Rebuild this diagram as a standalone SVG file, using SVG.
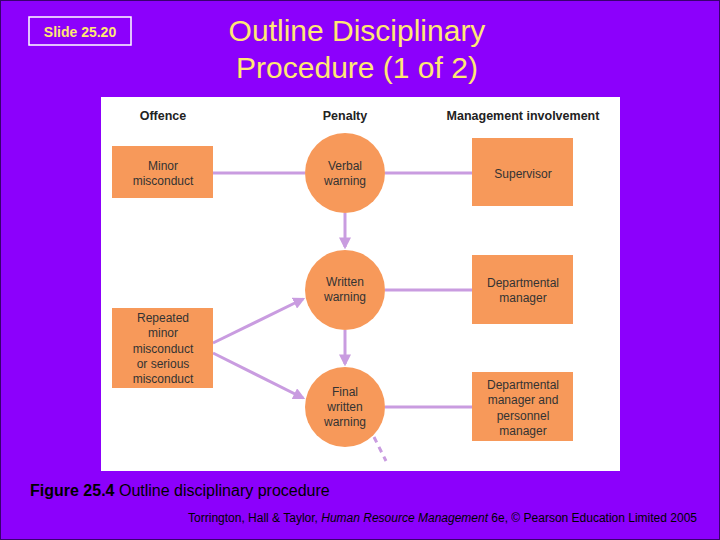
<svg xmlns="http://www.w3.org/2000/svg" width="720" height="540" viewBox="0 0 720 540">
<defs>
<style>
.n{fill:#F7995A}
.t{font-family:"Liberation Sans",Arial,sans-serif;font-size:12px;fill:#333;text-anchor:middle}
.h{font-family:"Liberation Sans",Arial,sans-serif;font-size:12.5px;font-weight:bold;fill:#222;text-anchor:middle}
.c{stroke:#C99CE0;stroke-width:3;fill:none}
</style>
<marker id="a" viewBox="0 0 10 10" refX="8" refY="5" markerWidth="4" markerHeight="4" orient="auto"><path d="M0,0L10,5L0,10z" fill="#C99CE0"/></marker>
</defs>
<rect width="720" height="540" fill="#8C00FC"/>
<rect x="0.5" y="0.5" width="719" height="539" fill="none" stroke="#3a0070"/>
<rect x="29" y="17" width="102" height="28" fill="none" stroke="#fff" stroke-width="1.5"/>
<text x="80" y="37" font-family="Liberation Sans,Arial,sans-serif" font-size="14" font-weight="bold" fill="#FFE873" text-anchor="middle">Slide 25.20</text>
<text x="357" y="41" font-family="Liberation Sans,Arial,sans-serif" font-size="30" fill="#FFE873" text-anchor="middle">Outline Disciplinary</text>
<text x="357" y="78" font-family="Liberation Sans,Arial,sans-serif" font-size="30" fill="#FFE873" text-anchor="middle">Procedure (1 of 2)</text>
<rect x="101" y="97" width="519" height="374" fill="#fff"/>
<text class="h" x="163" y="120">Offence</text>
<text class="h" x="345" y="120">Penalty</text>
<text class="h" x="523" y="120">Management involvement</text>
<g id="connectors">
<line class="c" x1="213" y1="173" x2="305" y2="173"/>
<line class="c" x1="385" y1="173" x2="472" y2="173"/>
<line class="c" x1="385" y1="290" x2="472" y2="290"/>
<line class="c" x1="385" y1="407" x2="472" y2="407"/>
<line class="c" x1="345" y1="213" x2="345" y2="247" marker-end="url(#a)"/>
<line class="c" x1="345" y1="330" x2="345" y2="364" marker-end="url(#a)"/>
<line class="c" x1="213" y1="343" x2="303" y2="299" marker-end="url(#a)"/>
<line class="c" x1="213" y1="353" x2="303" y2="398" marker-end="url(#a)"/>
<line class="c" x1="374" y1="437" x2="386" y2="461" stroke-dasharray="6,5"/>
</g>
<g id="minor"><rect class="n" x="112" y="146" width="101" height="52"/><text class="t" x="163" y="170">Minor</text><text class="t" x="163" y="185">misconduct</text></g>
<g id="repeated"><rect class="n" x="112" y="308" width="101" height="80"/><text class="t" x="163" y="322">Repeated</text><text class="t" x="163" y="337">minor</text><text class="t" x="163" y="353">misconduct</text><text class="t" x="163" y="368">or serious</text><text class="t" x="163" y="383">misconduct</text></g>
<g id="verbal"><circle class="n" cx="345" cy="173" r="40"/><text class="t" x="345" y="170">Verbal</text><text class="t" x="345" y="185">warning</text></g>
<g id="written"><circle class="n" cx="345" cy="290" r="40"/><text class="t" x="345" y="286">Written</text><text class="t" x="345" y="301">warning</text></g>
<g id="final"><circle class="n" cx="345" cy="407" r="40"/><text class="t" x="345" y="396">Final</text><text class="t" x="345" y="411">written</text><text class="t" x="345" y="426">warning</text></g>
<g id="supervisor"><rect class="n" x="472" y="138" width="101" height="68"/><text class="t" x="523" y="178">Supervisor</text></g>
<g id="dept"><rect class="n" x="472" y="255" width="101" height="69"/><text class="t" x="523" y="287">Departmental</text><text class="t" x="523" y="302">manager</text></g>
<g id="deptpers"><rect class="n" x="472" y="372" width="101" height="69"/><text class="t" x="523" y="389">Departmental</text><text class="t" x="523" y="404">manager and</text><text class="t" x="523" y="420">personnel</text><text class="t" x="523" y="435">manager</text></g>
<text x="30" y="496" font-family="Liberation Sans,Arial,sans-serif" font-size="16" fill="#000"><tspan font-weight="bold">Figure 25.4</tspan>  Outline disciplinary procedure</text>
<text x="697" y="522" font-family="Liberation Sans,Arial,sans-serif" font-size="12" fill="#000" text-anchor="end">Torrington, Hall &amp; Taylor, <tspan font-style="italic">Human Resource Management</tspan> 6e, © Pearson Education Limited 2005</text>
</svg>
